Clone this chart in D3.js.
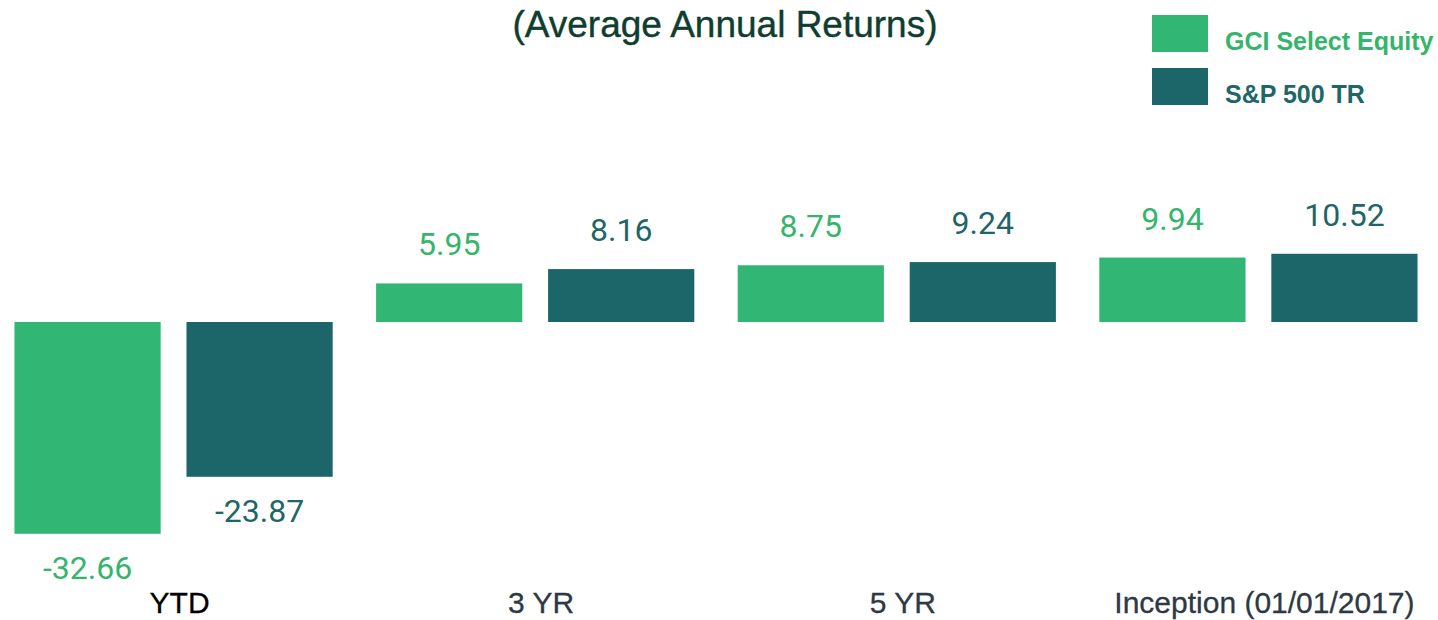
<!DOCTYPE html>
<html>
<head>
<meta charset="utf-8">
<script src="https://cdn.jsdelivr.net/npm/d3@7"></script>
<style>
  body { margin: 0; background: #fff; }
  #chart { width: 1438px; height: 620px; }
</style>
</head>
<body>
<div id="chart"></div>
<script>
const categories = ['YTD', '3 YR', '5 YR', 'Inception (01/01/2017)']
const seriesNames = ['GCI Select Equity', 'S&P 500 TR']
const gciValues = [-32.66, 5.95, 8.75, 9.94]
const spValues = [-23.87, 8.16, 9.24, 10.52]

const colors = ['#31b673', '#1c6669']
const labelColors = ['#35b56c', '#1f6669']

const width = 1438
const height = 620

const data = categories.map((c, i) => ({
  category: c,
  values: [
    { key: seriesNames[0], value: gciValues[i] },
    { key: seriesNames[1], value: spValues[i] }
  ]
}))

const svg = d3
  .select('#chart')
  .append('svg')
  .attr('width', width)
  .attr('height', height)

// scales
const x0 = d3
  .scaleBand()
  .domain(categories)
  .range([0, 1432])
  .paddingInner(0.12)
  .paddingOuter(0.04)

const x1 = d3
  .scaleBand()
  .domain(seriesNames)
  .range([0, x0.bandwidth()])
  .paddingInner(0.15)

const y = d3.scaleLinear().domain([-33, 0]).range([536, 322])

// title
svg
  .append('text')
  .attr('x', 725)
  .attr('y', 37)
  .attr('text-anchor', 'middle')
  .style('font-family', 'Liberation Sans, Arial, sans-serif')
  .style('font-size', '37px')
  .style('fill', '#0f3d30')
  .style('stroke', '#0f3d30')
  .style('stroke-width', 0.4)
  .text('(Average Annual Returns)')

// bars
const groups = svg
  .selectAll('.group')
  .data(data)
  .join('g')
  .attr('class', 'group')
  .attr('transform', (d) => `translate(${x0(d.category)},0)`)

groups
  .selectAll('rect')
  .data((d) => d.values)
  .join('rect')
  .attr('x', (d) => x1(d.key))
  .attr('y', (d) => y(Math.max(0, d.value)))
  .attr('width', x1.bandwidth())
  .attr('height', (d) => Math.abs(y(d.value) - y(0)))
  .attr('fill', (d, i) => colors[i])

groups
  .selectAll('.value')
  .data((d) => d.values)
  .join('text')
  .attr('class', 'value')
  .attr('x', (d) => x1(d.key) + x1.bandwidth() / 2)
  .attr('y', (d) => (d.value >= 0 ? y(d.value) - 28 : y(d.value) + 45))
  .attr('text-anchor', 'middle')
  .style('font-family', 'Roboto, sans-serif')
  .style('font-size', '32px')
  .style('fill', (d, i) => labelColors[i])
  .text((d) => d.value.toFixed(2))

// category axis
const xAxis = svg
  .append('g')
  .attr('transform', 'translate(0,590)')
  .call(d3.axisBottom(x0).tickSize(0).tickPadding(0))

xAxis.select('.domain').remove()
xAxis
  .selectAll('text')
  .attr('dy', '0.75em')
  .attr('dx', 6)
  .style('font-family', 'Liberation Sans, Arial, sans-serif')
  .style('font-size', '30px')
  .style('fill', (d, i) => (i === 0 ? '#000' : '#2d3944'))
  .style('stroke', (d, i) => (i === 0 ? '#000' : '#2d3944'))
  .style('stroke-width', 0.3)

// legend
const legend = svg
  .append('g')
  .selectAll('g')
  .data(seriesNames)
  .join('g')
  .attr('transform', (d, i) => `translate(1152,${15 + i * 53})`)

legend
  .append('rect')
  .attr('width', 56)
  .attr('height', 37)
  .attr('fill', (d, i) => colors[i])

legend
  .append('text')
  .attr('x', 73)
  .attr('y', 35)
  .style('font-family', 'Liberation Sans, Arial, sans-serif')
  .style('font-size', '25px')
  .style('font-weight', 'bold')
  .style('fill', (d, i) => labelColors[i])
  .text((d) => d)
</script>
</body>
</html>
